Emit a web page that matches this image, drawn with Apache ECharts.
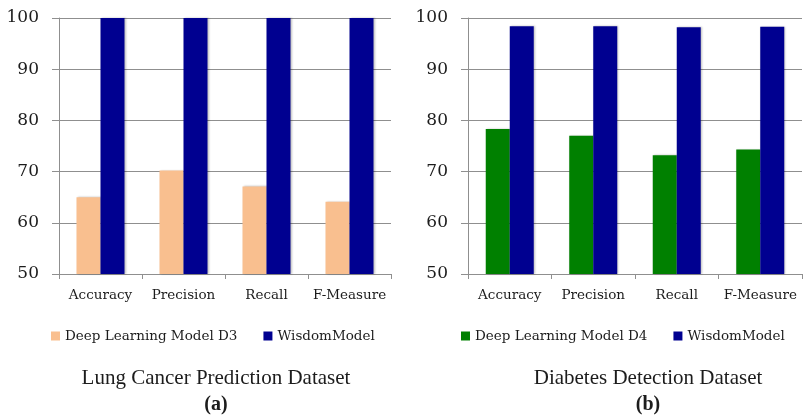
<!DOCTYPE html>
<html><head><meta charset="utf-8">
<script src="https://cdn.jsdelivr.net/npm/echarts@6/dist/echarts.min.js"></script>
<style>html,body{margin:0;padding:0;background:#fff}#c{width:803px;height:417px}</style>
</head><body><div id="c"></div>
<script>
const categories = ['Accuracy', 'Precision', 'Recall', 'F-Measure'];
const yTicks = [50, 60, 70, 80, 90, 100];
const lungDeep = [65.0, 70.2, 67.1, 64.1];
const lungWisdom = [100, 100, 100, 100];
const diabDeep = [78.3, 77.0, 73.2, 74.3];
const diabWisdom = [98.4, 98.4, 98.2, 98.3];
const lungDeepName = 'Deep Learning Model D3';
const diabDeepName = 'Deep Learning Model D4';
const wisdomName = 'WisdomModel';
const titleA = 'Lung Cancer Prediction Dataset';
const titleB = 'Diabetes Detection Dataset';

const ORANGE = '#F9BF8F', NAVY = '#000090', GREEN = '#008000';
const GRID = '#8f8f8f', TXT = '#1c1c1c';
const serif = '"DejaVu Serif", serif';

function xAx(i) {
  return {
    type: 'category', gridIndex: i, data: categories,
    axisLine: {lineStyle: {color: GRID, width: 1}},
    axisTick: {show: true, length: 5, lineStyle: {color: GRID}},
    axisLabel: {color: TXT, fontFamily: serif, fontSize: 13.5, margin: 14, interval: 0}
  };
}
function yAx(i) {
  return {
    type: 'value', gridIndex: i, min: yTicks[0], max: yTicks[yTicks.length-1], interval: 10,
    axisLine: {show: true, lineStyle: {color: GRID, width: 1}},
    axisTick: {show: true, length: 7, lineStyle: {color: GRID}},
    splitLine: {lineStyle: {color: GRID, width: 1}},
    axisLabel: {color: TXT, fontFamily: serif, fontSize: 17, margin: 20}
  };
}
function bar(name, data, color, i) {
  return {
    type: 'bar', name: name, data: data, xAxisIndex: i, yAxisIndex: i,
    barWidth: 24, barGap: '0%',
    itemStyle: {color: color, shadowColor: 'rgba(0,0,0,0.25)', shadowBlur: 2, shadowOffsetX: 1, shadowOffsetY: 0},
    emphasis: {disabled: true}, animation: false
  };
}
const legendText = {color: TXT, fontFamily: serif, fontSize: 13.5};
const option = {
  animation: false,
  grid: [
    {left: 59, right: 412, top: 18, bottom: 143},
    {left: 468, right: 1, top: 18, bottom: 143}
  ],
  xAxis: [xAx(0), xAx(1)],
  yAxis: [yAx(0), yAx(1)],
  legend: [
    {data: [lungDeepName, wisdomName], left: 46, top: 324, width: 400, itemWidth: 9, itemHeight: 9, itemGap: 26,
      textStyle: legendText, icon: 'rect', selectedMode: false},
    {data: [diabDeepName, wisdomName], left: 456, top: 324, width: 400, itemWidth: 9, itemHeight: 9, itemGap: 26,
      textStyle: legendText, icon: 'rect', selectedMode: false}
  ],
  title: [
    {text: titleA, left: 211, top: 363, textAlign: 'center',
      textStyle: {fontFamily: '"Liberation Serif", serif', fontSize: 21, fontWeight: 'normal', color: TXT}},
    {text: '(a)', left: 211, top: 390, textAlign: 'center',
      textStyle: {fontFamily: '"Liberation Serif", serif', fontSize: 20, fontWeight: 'bold', color: TXT}},
    {text: titleB, left: 643, top: 363, textAlign: 'center',
      textStyle: {fontFamily: '"Liberation Serif", serif', fontSize: 21, fontWeight: 'normal', color: TXT}},
    {text: '(b)', left: 643, top: 390, textAlign: 'center',
      textStyle: {fontFamily: '"Liberation Serif", serif', fontSize: 20, fontWeight: 'bold', color: TXT}}
  ],
  series: [
    bar(lungDeepName, lungDeep, ORANGE, 0),
    bar(wisdomName, lungWisdom, NAVY, 0),
    bar(diabDeepName, diabDeep, GREEN, 1),
    bar(wisdomName, diabWisdom, NAVY, 1)
  ]
};
const chart = echarts.init(document.getElementById('c'), null, {renderer: 'canvas'});
chart.setOption(option);
</script></body></html>
